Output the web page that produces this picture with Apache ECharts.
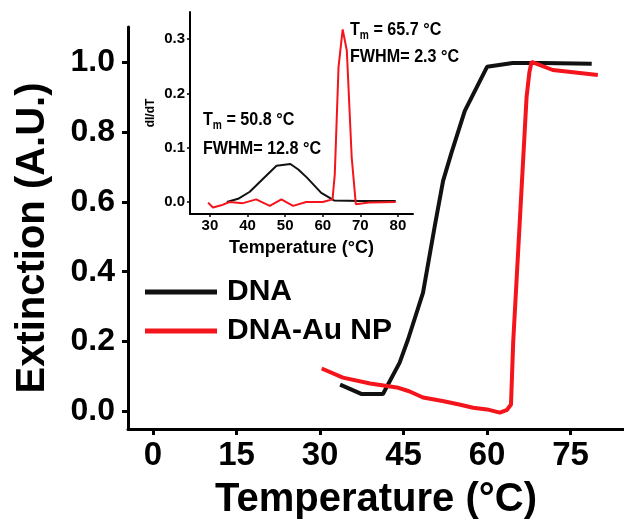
<!DOCTYPE html>
<html>
<head>
<meta charset="utf-8">
<script src="https://cdn.jsdelivr.net/npm/echarts@6/dist/echarts.min.js"></script>
<style>html,body{margin:0;padding:0;background:#fff}#c{width:624px;height:525px}</style>
</head>
<body>
<div id="c"></div>
<script>
// Main plot data
const xTicks = [0, 15, 30, 45, 60, 75];
const yTicks = [0, 0.2, 0.4, 0.6, 0.8, 1.0];
const dnaTemp = [33.6, 37.5, 41.3, 44.3, 45.8, 48.5, 50.6, 52.1, 53.6, 56, 60, 64.6, 70, 78.8];
const dnaExt  = [0.077, 0.05, 0.05, 0.14, 0.206, 0.34, 0.53, 0.66, 0.74, 0.86, 0.986, 0.997, 0.997, 0.995];
const npTemp = [30.3, 34.1, 39, 43.8, 46, 48.5, 52, 55, 57.5, 60, 62.3, 63.6, 64.3, 64.7, 65.9, 67.1, 67.6, 68, 71.8, 79.9];
const npExt  = [0.123, 0.097, 0.08, 0.069, 0.058, 0.04, 0.03, 0.02, 0.011, 0.006, -0.003, 0.005, 0.02, 0.2, 0.55, 0.9, 0.97, 1.0, 0.977, 0.963];
// Inset data
const insetXTicks = [30, 40, 50, 60, 70, 80];
const insetYTicks = [0, 0.1, 0.2, 0.3];
const insetDnaT = [34.5, 37.5, 40.6, 44, 47.7, 51.4, 53.5, 55.8, 59.6, 63, 70, 79.4];
const insetDnaD = [0.0, 0.006, 0.019, 0.042, 0.067, 0.07, 0.06, 0.045, 0.017, 0.003, 0.002, 0.002];
const insetNpT = [29.5, 30.8, 33, 35.2, 38.8, 42.3, 45.9, 49, 52.1, 55.6, 60, 62.6, 63.2, 64.2, 65.3, 66.4, 67.7, 68.8, 72.3, 79.4];
const insetNpD = [-0.001, -0.01, -0.006, 0, -0.002, 0.005, -0.007, 0.005, -0.007, 0, 0, 0.005, 0.051, 0.249, 0.318, 0.279, 0.082, -0.004, -0.001, 0];
const seriesNames = ['DNA', 'DNA-Au NP'];

const zip = (a, b) => a.map((v, i) => [v, b[i]]);
const F = 'Liberation Sans, Arial, sans-serif';
const BLACK = '#111';
const RED = '#f4141c';

const chart = echarts.init(document.getElementById('c'), null, {renderer: 'canvas'});
const mainAxisLine = {show: true, onZero: false, lineStyle: {color: '#000', width: 3}};
const insetAxisLine = {show: true, onZero: false, lineStyle: {color: '#000', width: 2}};

const annStyle = (t) => ({text: t, fontFamily: F, fontWeight: 'bold', fontSize: 19, fill: '#000', align: 'left', verticalAlign: 'top',
  rich: {s: {fontFamily: F, fontWeight: 'bold', fontSize: 12, padding: [12, 0, 0, 0]}}});

chart.setOption({
  animation: false,
  backgroundColor: '#fff',
  grid: [
    {left: 128, top: 27, width: 496, height: 403, containLabel: false},
    {left: 190, top: 12, width: 223, height: 202, containLabel: false}
  ],
  xAxis: [
    {
      gridIndex: 0, type: 'value', min: -4.5, max: 84.6,
      name: 'Temperature (°C)', nameLocation: 'middle', nameGap: 51,
      nameTextStyle: {fontFamily: F, fontWeight: 'bold', fontSize: 40, color: '#000'},
      axisLine: mainAxisLine,
      axisTick: {show: true, inside: false, length: 6, lineStyle: {width: 3, color: '#000'}, customValues: xTicks},
      axisLabel: {customValues: xTicks, margin: 10, fontFamily: F, fontWeight: 'bold', fontSize: 33, color: '#000'},
      splitLine: {show: false}
    },
    {
      gridIndex: 1, type: 'value', min: 24.7, max: 84,
      name: 'Temperature (°C)', nameLocation: 'middle', nameGap: 25,
      nameTextStyle: {fontFamily: F, fontWeight: 'bold', fontSize: 18, color: '#000'},
      axisLine: insetAxisLine,
      axisTick: {show: true, length: 3, lineStyle: {width: 1.5, color: '#000'}, customValues: insetXTicks},
      axisLabel: {customValues: insetXTicks, margin: 4, fontFamily: F, fontWeight: 'bold', fontSize: 15, color: '#000'},
      splitLine: {show: false}
    }
  ],
  yAxis: [
    {
      gridIndex: 0, type: 'value', min: -0.05, max: 1.1,
      name: 'Extinction (A.U.)', nameLocation: 'middle', nameGap: 75,
      nameTextStyle: {fontFamily: F, fontWeight: 'bold', fontSize: 40, color: '#000', padding: [0, 20, 0, 0]},
      axisLine: mainAxisLine,
      axisTick: {show: true, length: 6, lineStyle: {width: 3, color: '#000'}, customValues: yTicks},
      axisLabel: {customValues: yTicks, margin: 13, formatter: v => v.toFixed(1), fontFamily: F, fontWeight: 'bold', fontSize: 32, color: '#000'},
      splitLine: {show: false}
    },
    {
      gridIndex: 1, type: 'value', min: -0.022, max: 0.35,
      name: 'dI/dT', nameLocation: 'middle', nameGap: 33,
      nameTextStyle: {fontFamily: F, fontWeight: 'bold', fontSize: 12, color: '#000'},
      axisLine: insetAxisLine,
      axisTick: {show: true, length: 3, lineStyle: {width: 1.5, color: '#000'}, customValues: insetYTicks},
      axisLabel: {customValues: insetYTicks, margin: 5, formatter: v => v.toFixed(1), fontFamily: F, fontWeight: 'bold', fontSize: 15, color: '#000'},
      splitLine: {show: false}
    }
  ],
  legend: {
    orient: 'vertical', left: 140, top: 272, itemWidth: 72, itemHeight: 5, itemGap: 9,
    icon: 'rect', data: seriesNames,
    textStyle: {fontFamily: F, fontWeight: 'bold', fontSize: 30, lineHeight: 30, color: '#000', padding: [0, 0, 0, 5]}
  },
  graphic: [
    {type: 'text', x: 350, y: 18, scaleX: 0.85, style: annStyle('T{s|m} = 65.7 °C')},
    {type: 'text', x: 350, y: 47, scaleX: 0.85, style: annStyle('FWHM= 2.3 °C')},
    {type: 'text', x: 203, y: 108, scaleX: 0.85, style: annStyle('T{s|m} = 50.8 °C')},
    {type: 'text', x: 203, y: 139, scaleX: 0.85, style: annStyle('FWHM= 12.8 °C')}
  ],
  series: [
    {name: seriesNames[0], type: 'line', xAxisIndex: 0, yAxisIndex: 0, data: zip(dnaTemp, dnaExt), showSymbol: false, symbol: 'none',
      lineStyle: {color: BLACK, width: 4}, itemStyle: {color: BLACK}},
    {name: seriesNames[1], type: 'line', xAxisIndex: 0, yAxisIndex: 0, data: zip(npTemp, npExt), showSymbol: false, symbol: 'none',
      lineStyle: {color: RED, width: 4}, itemStyle: {color: RED}},
    {name: 'inset-DNA', type: 'line', xAxisIndex: 1, yAxisIndex: 1, data: zip(insetDnaT, insetDnaD), showSymbol: false, symbol: 'none',
      lineStyle: {color: BLACK, width: 2}, itemStyle: {color: BLACK}},
    {name: 'inset-NP', type: 'line', xAxisIndex: 1, yAxisIndex: 1, data: zip(insetNpT, insetNpD), showSymbol: false, symbol: 'none',
      lineStyle: {color: RED, width: 2}, itemStyle: {color: RED}}
  ]
});
</script>
</body>
</html>
